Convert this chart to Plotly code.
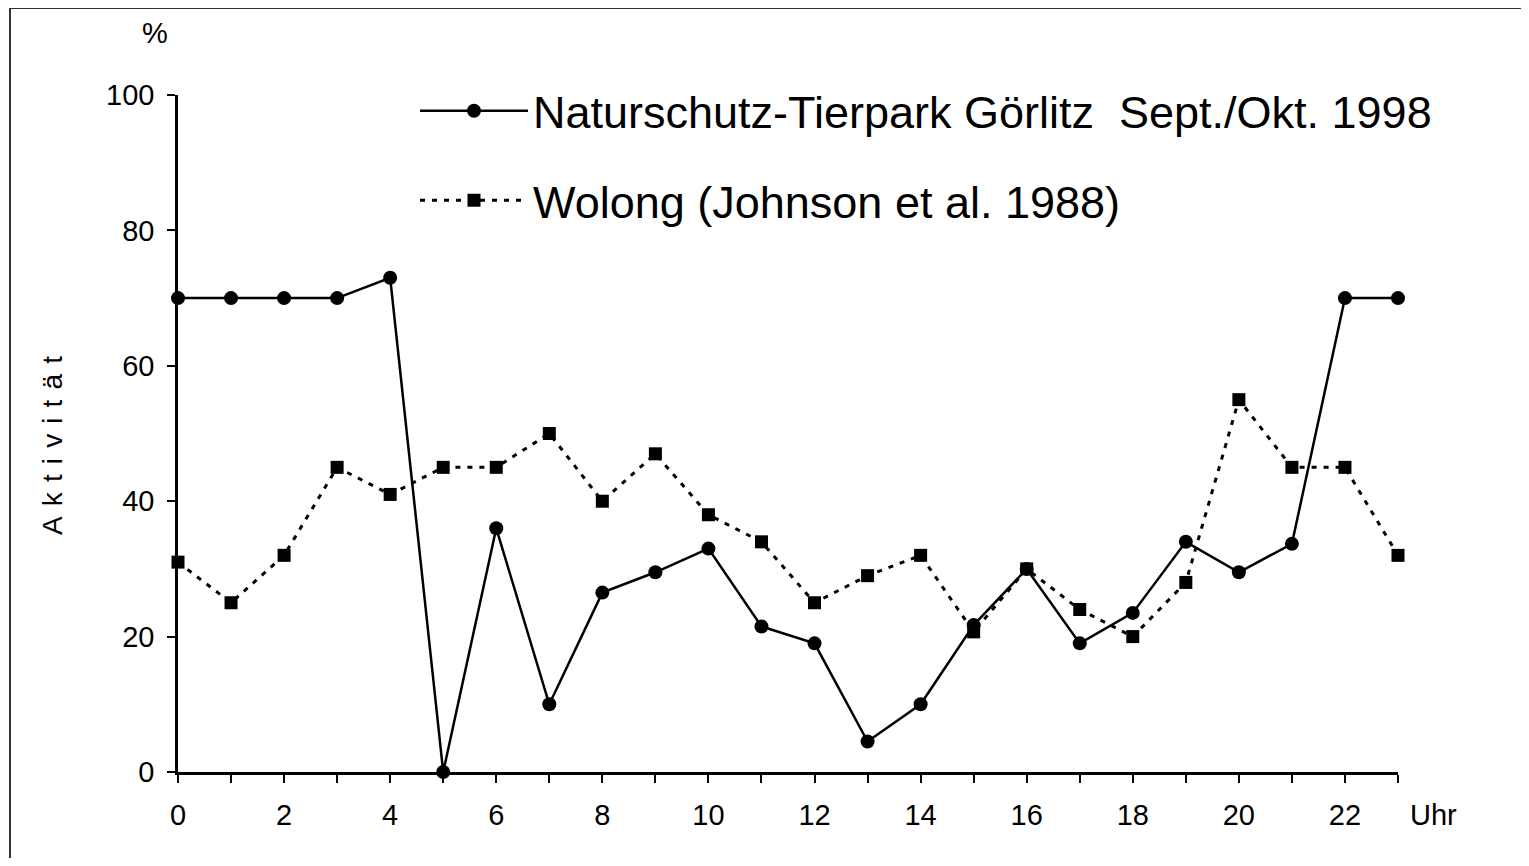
import plotly.graph_objects as go

# hours of day
hours = list(range(24))

# activity in %, Naturschutz-Tierpark Görlitz
goerlitz = [70, 70, 70, 70, 73, 0, 36, 10, 26.5, 29.5, 33, 21.5,
            19, 4.5, 10, 21.7, 30, 19, 23.5, 34, 29.5, 33.7, 70, 70]

# activity in %, Wolong
wolong = [31, 25, 32, 45, 41, 45, 45, 50, 40, 47, 38, 34,
          25, 29, 32, 20.7, 30, 24, 20, 28, 55, 45, 45, 32]

x_ticks = list(range(24))
x_ticktext = [str(h) if h % 2 == 0 else "" for h in x_ticks]
y_ticks = [0, 20, 40, 60, 80, 100]

FONT = "Liberation Sans, Arial, sans-serif"

# page has an 8px body margin, so the figure is a bit smaller than the window
OFF = 8
W, H = 1529 - 2 * OFF, 866 - 2 * OFF
# plot area in page pixels: x 178..1398, y 95..772
ML = 178 - OFF
MT = 95 - OFF
MR = W - (1398 - OFF)
MB = H - (772 - OFF)
pw, ph = W - ML - MR, H - MT - MB


def px_x(p):  # page pixel -> paper x
    return (p - OFF - ML) / pw


def px_y(p):  # page pixel -> paper y
    return (H - MB - (p - OFF)) / ph


fig = go.Figure()

fig.add_trace(go.Scatter(
    x=hours, y=goerlitz, mode="lines+markers",
    name="Naturschutz-Tierpark Görlitz  Sept./Okt. 1998",
    legendgroup="a",
    line=dict(color="black", width=2.5),
    marker=dict(symbol="circle", size=14, color="black"),
    cliponaxis=False,
))

fig.add_trace(go.Scatter(
    x=hours, y=wolong, mode="lines+markers",
    name="Wolong (Johnson et al. 1988)",
    legendgroup="b",
    line=dict(color="black", width=3, dash="5px,7px"),
    marker=dict(symbol="square", size=13, color="black"),
    cliponaxis=False,
))

fig.update_layout(
    width=W, height=H,
    margin=dict(l=ML, r=MR, t=MT, b=MB),
    paper_bgcolor="white", plot_bgcolor="white",
    font=dict(family=FONT, color="black", size=29),
    legend=dict(
        x=px_x(415), y=px_y(75), xanchor="left", yanchor="top",
        font=dict(size=45, family=FONT),
        itemwidth=108,
        tracegroupgap=28,
        bgcolor="rgba(0,0,0,0)",
    ),
    xaxis=dict(
        range=[0, 23], tickvals=x_ticks, ticktext=x_ticktext,
        showgrid=False, zeroline=False,
        showline=True, linecolor="black", linewidth=2.5,
        ticks="outside", ticklen=8, tickwidth=2, tickcolor="black",
        ticklabelstandoff=7,
        tickfont=dict(size=29, family=FONT),
    ),
    yaxis=dict(
        range=[0, 100], tickvals=y_ticks,
        showgrid=False, zeroline=False,
        showline=True, linecolor="black", linewidth=2.5,
        ticks="outside", ticklen=8, tickwidth=2, tickcolor="black",
        ticklabelstandoff=7,
        tickfont=dict(size=29, family=FONT),
    ),
    annotations=[
        dict(text="%", xref="paper", yref="paper", x=px_x(155), y=px_y(33),
             xanchor="center", yanchor="middle",
             showarrow=False, font=dict(size=29)),
        dict(text="Uhr", xref="paper", yref="paper", x=px_x(1433), y=px_y(815),
             xanchor="center", yanchor="middle",
             showarrow=False, font=dict(size=29)),
        dict(text="A\u200a k\u200a t\u200a i\u200a v\u200a i\u200a t\u200a ä\u200a t",
             xref="paper", yref="paper",
             x=px_x(52), y=px_y(445), textangle=-90,
             xanchor="center", yanchor="middle",
             showarrow=False, font=dict(size=28)),
    ],
    shapes=[
        dict(type="rect", xref="paper", yref="paper",
             x0=px_x(10), x1=px_x(1523), y0=px_y(880), y1=px_y(8),
             line=dict(color="#333", width=2), layer="below"),
    ],
)

fig.write_html("out.html")
